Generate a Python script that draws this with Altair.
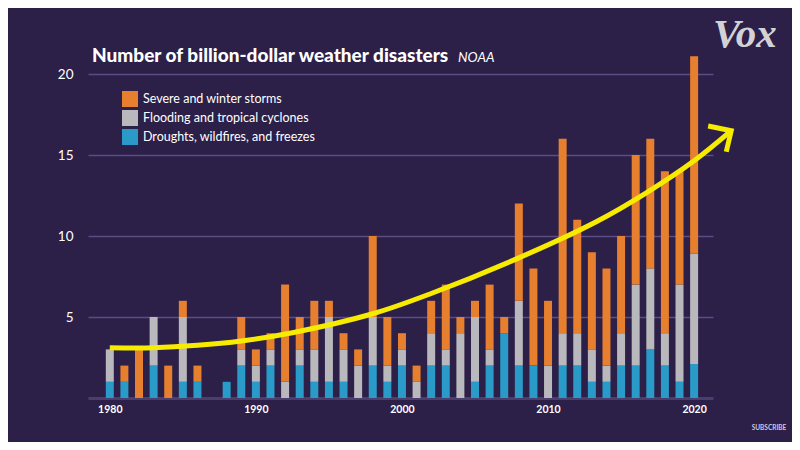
import altair as alt
import pandas as pd

years = list(range(1980, 2021))
droughts = [1, 1, 0, 2, 0, 1, 1, 0, 1, 2, 1, 2, 0, 2, 1, 1, 1, 0, 2, 1,
            2, 0, 2, 2, 0, 1, 2, 4, 2, 2, 0, 2, 2, 1, 1, 2, 2, 3, 2, 1, 2.1]
flooding = [2, 0, 0, 3, 0, 4, 0, 0, 0, 1, 1, 1, 1, 1, 2, 4, 2, 2, 3, 1,
            1, 1, 2, 1, 4, 4, 1, 0, 4, 0, 2, 2, 2, 2, 1, 2, 5, 5, 2, 6, 6.8]
storms = [0, 1, 3, 0, 2, 1, 1, 0, 0, 2, 1, 1, 6, 2, 3, 1, 1, 1, 5, 3,
          1, 1, 2, 4, 1, 1, 4, 1, 6, 6, 4, 12, 7, 6, 6, 6, 8, 8, 10, 7, 12.2]

cats = ["Severe and winter storms", "Flooding and tropical cyclones", "Droughts, wildfires, and freezes"]
colors = ["#e67f2e", "#b9b8bd", "#2a9bc8"]

# trend arrow (hand-drawn annotation in the original), in data units
curve_year = [1980, 1983, 1986, 1989, 1992.5, 1998, 2002, 2008, 2013.3, 2016.7, 2020.07, 2022.54]
curve_val = [3.1, 3.1, 3.25, 3.52, 4.03, 5.2, 6.45, 8.65, 10.88, 12.65, 14.69, 16.5]
head_year = [2020.96, 2022.54, 2022.2]
head_val = [16.79, 16.5, 15.2]

rows = []
for i, y in enumerate(years):
    rows.append({"year": y, "count": droughts[i], "cat": cats[2], "ord": 0})
    rows.append({"year": y, "count": flooding[i], "cat": cats[1], "ord": 1})
    rows.append({"year": y, "count": storms[i], "cat": cats[0], "ord": 2})
df = pd.DataFrame(rows)
curve_df = pd.DataFrame({"year": curve_year, "count": curve_val})
head_df = pd.DataFrame({"year": head_year, "count": head_val, "i": [0, 1, 2]})

xscale = alt.Scale(domain=[1978.85, 2020.95], nice=False, zero=False)
yscale = alt.Scale(domain=[0, 20], nice=False)
FONT = "Lato"

bars = alt.Chart(df).mark_bar(size=8).encode(
    x=alt.X("year:Q", scale=xscale, title=None,
            axis=alt.Axis(values=[1980, 1990, 2000, 2010, 2020], format="d", grid=False, ticks=False,
                          labelColor="white", labelFont=FONT, labelFontWeight="bold", labelFontSize=10.5,
                          labelPadding=6, domainColor="#4b3e6e", domainWidth=3)),
    y=alt.Y("count:Q", stack="zero", scale=yscale, title=None,
            axis=alt.Axis(values=[5, 10, 15, 20], grid=True, gridColor="#5d4d85", gridWidth=1.5,
                          domain=False, ticks=False, labelColor="white", labelFont=FONT,
                          labelFontSize=13.5, labelPadding=15)),
    color=alt.Color("cat:N", scale=alt.Scale(domain=cats, range=colors),
                    legend=alt.Legend(title=None, orient="none", legendX=34, legendY=17,
                                      symbolType="square", symbolSize=256, symbolStrokeWidth=0,
                                      symbolOpacity=1, rowPadding=3, labelOffset=5,
                                      labelColor="white", labelFont=FONT, labelFontSize=12.5,
                                      labelLimit=400, padding=0)),
    order=alt.Order("ord:Q", sort="ascending"),
)

curve = alt.Chart(curve_df).mark_line(interpolate="catmull-rom", color="#f7ec00", strokeWidth=5,
                                      strokeCap="butt").encode(
    x=alt.X("year:Q", scale=xscale), y=alt.Y("count:Q", scale=yscale))

head = alt.Chart(head_df).mark_line(color="#f7ec00", strokeWidth=5, strokeJoin="miter",
                                    strokeCap="butt").encode(
    x=alt.X("year:Q", scale=xscale), y=alt.Y("count:Q", scale=yscale), order="i:Q")

title = alt.Chart(pd.DataFrame({"t": ["Number of billion-dollar weather disasters"]})).mark_text(
    align="left", baseline="alphabetic", font=FONT, fontWeight=900, fontSize=19, color="white"
).encode(text="t:N", x=alt.value(4), y=alt.value(-12))

src = alt.Chart(pd.DataFrame({"t": ["NOAA"]})).mark_text(
    align="left", baseline="alphabetic", font=FONT, fontStyle="italic", fontSize=13.5, color="white"
).encode(text="t:N", x=alt.value(370), y=alt.value(-12))

logo = alt.Chart(pd.DataFrame({"t": ["Vox"]})).mark_text(
    align="left", baseline="alphabetic", font="Liberation Serif", fontStyle="italic", fontWeight="bold",
    fontSize=41, color="#d2d1d6"
).encode(text="t:N", x=alt.value(625), y=alt.value(-27))

sub = alt.Chart(pd.DataFrame({"t": ["SUBSCRIBE"]})).mark_text(
    align="center", baseline="middle", font=FONT, fontWeight="bold", fontSize=6.5, color="#cfc7e0"
).encode(text="t:N", x=alt.value(681), y=alt.value(354))

chart = alt.layer(bars, curve, head, title, src, logo, sub).properties(
    width=625, height=324,
    autosize=alt.AutoSizeParams(type="none"),
    padding={"left": 80, "top": 66, "right": 79, "bottom": 44},
    background="#2c1f48",
).configure_view(stroke=None)

chart.save("out.html", embed_options={"renderer": "svg", "actions": False})
